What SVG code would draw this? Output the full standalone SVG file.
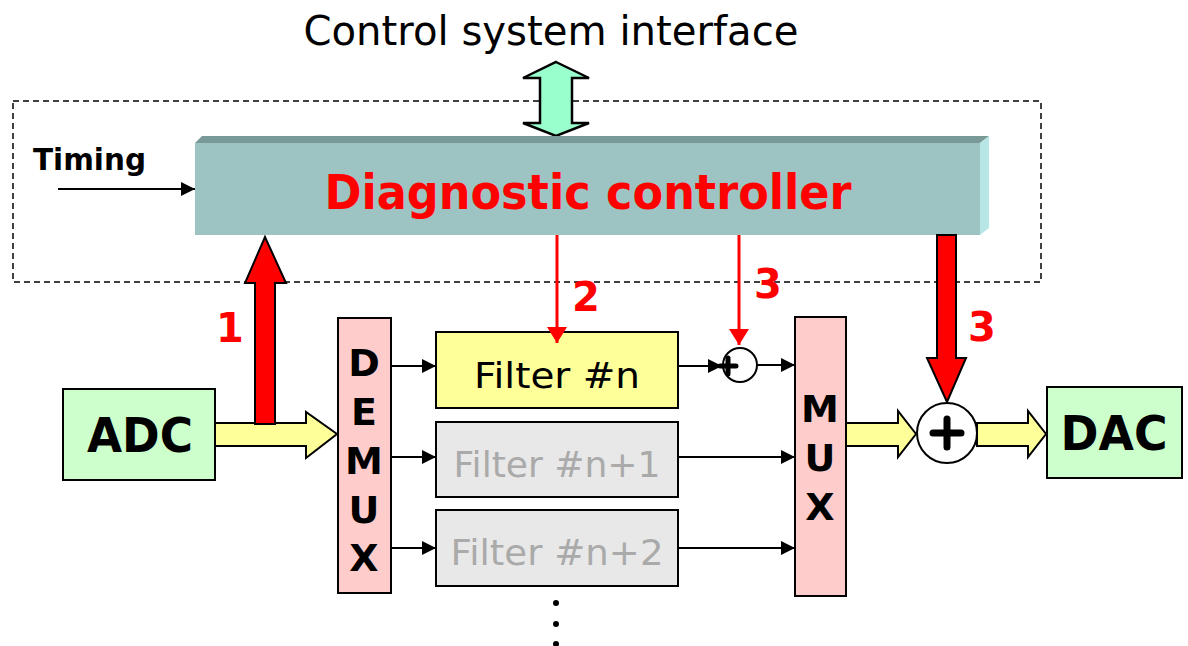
<svg xmlns="http://www.w3.org/2000/svg" width="1188" height="646" viewBox="0 0 1188 646">
<defs>
<style>
text{font-family:"DejaVu Sans","Liberation Sans",sans-serif;}
.blk{stroke:#000;stroke-width:2}
.lbl{font-weight:bold;fill:#000}
.red{fill:#ff0000;font-weight:bold}
.ln{stroke:#000;stroke-width:2;fill:none}
.gray{fill:#aaaaaa}
</style>
<marker id="ahb" viewBox="0 0 10 10" refX="10" refY="5" markerWidth="14" markerHeight="14" markerUnits="userSpaceOnUse" orient="auto">
<path d="M0,0 L10,5 L0,10 z" fill="#000"/>
</marker>
<marker id="ahr" viewBox="0 0 10 10" refX="10" refY="5" markerWidth="16" markerHeight="20" markerUnits="userSpaceOnUse" orient="auto" preserveAspectRatio="none">
<path d="M0,0 L10,5 L0,10 z" fill="#ff0000"/>
</marker>
</defs>
<rect width="1188" height="646" fill="#fff"/>

<g id="boundary">
<rect x="13" y="101" width="1028" height="181" fill="none" stroke="#000" stroke-width="1.5" stroke-dasharray="6,4"/>
</g>

<g id="title">
<text x="551" y="45" font-size="40" text-anchor="middle" textLength="495" lengthAdjust="spacingAndGlyphs">Control system interface</text>
</g>

<g id="interface-arrow">
<path d="M556,62 L589,78 L572,78 L572,123 L589,123 L556,136 L523,123 L540,123 L540,78 L523,78 Z" fill="#99ffcc" stroke="#000" stroke-width="2.5"/>
</g>

<g id="controller">
<path d="M195,143 L202,136 L989,136 L980,143 Z" fill="#7a9a98"/>
<path d="M980,143 L989,136 L989,228 L980,235 Z" fill="#b8e6e6"/>
<rect x="195" y="143" width="785" height="92" fill="#9dc3c2"/>
<text x="588" y="209" font-size="48" class="red" text-anchor="middle" textLength="527" lengthAdjust="spacingAndGlyphs">Diagnostic controller</text>
</g>

<g id="timing">
<text x="33" y="170" font-size="31" class="lbl" textLength="113" lengthAdjust="spacingAndGlyphs">Timing</text>
</g>

<g id="adc">
<rect x="63" y="389" width="152" height="91" fill="#ccffcc" class="blk"/>
<text x="140" y="452" font-size="48" class="lbl" text-anchor="middle" textLength="106" lengthAdjust="spacingAndGlyphs">ADC</text>
</g>

<g id="demux">
<rect x="338" y="318" width="53" height="275" fill="#ffcccc" class="blk"/>
<g font-size="38" class="lbl" text-anchor="middle">
<text x="364" y="376">D</text>
<text x="364" y="425">E</text>
<text x="364" y="474">M</text>
<text x="364" y="523">U</text>
<text x="364" y="571">X</text>
</g>
</g>

<g id="filter-n">
<rect x="436" y="332" width="242" height="76" fill="#ffff99" class="blk"/>
<text x="557" y="388" font-size="36" text-anchor="middle" textLength="166" lengthAdjust="spacingAndGlyphs">Filter #n</text>
</g>

<g id="filter-n1">
<rect x="436" y="422" width="242" height="75" fill="#e8e8e8" class="blk"/>
<text x="557" y="477" font-size="36" class="gray" text-anchor="middle" textLength="207" lengthAdjust="spacingAndGlyphs">Filter #n+1</text>
</g>

<g id="filter-n2">
<rect x="436" y="510" width="242" height="76" fill="#e8e8e8" class="blk"/>
<text x="557" y="565" font-size="36" class="gray" text-anchor="middle" textLength="213" lengthAdjust="spacingAndGlyphs">Filter #n+2</text>
</g>

<g id="dots">
<circle cx="556" cy="603" r="3" fill="#000"/>
<circle cx="556" cy="624" r="3" fill="#000"/>
<circle cx="556" cy="644" r="3" fill="#000"/>
</g>

<g id="small-adder">
<circle cx="740" cy="365" r="17" fill="#fff" stroke="#000" stroke-width="2"/>
<path d="M720,366 L736,366 M728,358 L728,374" stroke="#000" stroke-width="5" stroke-linecap="round"/>
</g>

<g id="mux">
<rect x="795" y="317" width="51" height="279" fill="#ffcccc" class="blk"/>
<g font-size="38" class="lbl" text-anchor="middle">
<text x="820" y="422">M</text>
<text x="820" y="471">U</text>
<text x="820" y="520">X</text>
</g>
</g>

<g id="big-adder">
<circle cx="947" cy="433" r="30" fill="#fff" stroke="#000" stroke-width="2"/>
<path d="M933,433 L961,433 M947,419 L947,447" stroke="#000" stroke-width="7" stroke-linecap="round"/>
</g>

<g id="dac">
<rect x="1047" y="387" width="135" height="91" fill="#ccffcc" class="blk"/>
<text x="1114" y="450" font-size="48" class="lbl" text-anchor="middle" textLength="107" lengthAdjust="spacingAndGlyphs">DAC</text>
</g>

<g id="connectors">
<line x1="58" y1="189" x2="195" y2="189" class="ln" marker-end="url(#ahb)"/>
<path d="M215,423 L306,423 L306,412 L337,434 L306,458 L306,446 L215,446 Z" fill="#ffff99" stroke="#000" stroke-width="2"/>
<path d="M255,424 L255,283 L245,283 L265,237 L286,283 L275,283 L275,424 Z" fill="#ff0000" stroke="#000" stroke-width="2"/>
<line x1="391" y1="366" x2="436" y2="366" class="ln" marker-end="url(#ahb)"/>
<line x1="391" y1="457" x2="436" y2="457" class="ln" marker-end="url(#ahb)"/>
<line x1="391" y1="548" x2="436" y2="548" class="ln" marker-end="url(#ahb)"/>
<line x1="557" y1="235" x2="557" y2="343" stroke="#ff0000" stroke-width="3" marker-end="url(#ahr)"/>
<line x1="739" y1="235" x2="739" y2="345" stroke="#ff0000" stroke-width="3" marker-end="url(#ahr)"/>
<line x1="678" y1="366" x2="722" y2="366" class="ln" marker-end="url(#ahb)"/>
<line x1="757" y1="365" x2="795" y2="365" class="ln" marker-end="url(#ahb)"/>
<line x1="678" y1="457" x2="795" y2="457" class="ln" marker-end="url(#ahb)"/>
<line x1="678" y1="548" x2="795" y2="548" class="ln" marker-end="url(#ahb)"/>
<path d="M846,423 L898,423 L898,411 L916,434 L898,457 L898,446 L846,446 Z" fill="#ffff99" stroke="#000" stroke-width="2"/>
<path d="M977,423 L1028,423 L1028,411 L1046,434 L1028,457 L1028,446 L977,446 Z" fill="#ffff99" stroke="#000" stroke-width="2"/>
<path d="M937,235 L937,358 L927,358 L947,402 L966,358 L956,358 L956,235 Z" fill="#ff0000" stroke="#000" stroke-width="2"/>
<text x="230" y="342" font-size="40" class="red" text-anchor="middle">1</text>
<text x="586" y="311" font-size="40" class="red" text-anchor="middle">2</text>
<text x="768" y="298" font-size="40" class="red" text-anchor="middle">3</text>
<text x="982" y="341" font-size="40" class="red" text-anchor="middle">3</text>
</g>
</svg>
